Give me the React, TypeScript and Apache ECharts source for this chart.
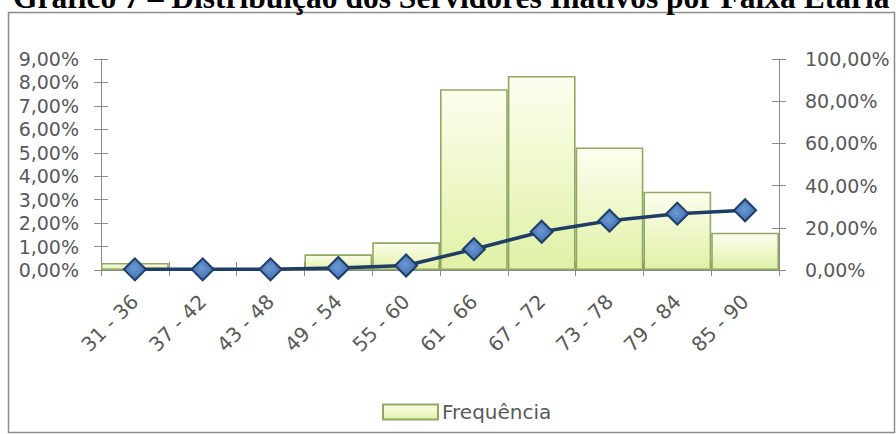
import React, { useEffect, useRef } from "react";
import * as echarts from "echarts";

// Age bands (faixa etária)
const categories = [
  "31 - 36", "37 - 42", "43 - 48", "49 - 54", "55 - 60",
  "61 - 66", "67 - 72", "73 - 78", "79 - 84", "85 - 90",
];

// Frequency of each band, in % (left axis)
const frequencia = [0.3, 0, 0, 0.67, 1.18, 7.71, 8.28, 5.23, 3.34, 1.59];

// Accumulated percentage (right axis)
const acumulado = [0.3, 0.3, 0.3, 0.97, 2.15, 9.86, 18.14, 23.37, 26.71, 28.3];

const titleText = "Gráfico 7 – Distribuição dos Servidores Inativos por Faixa Etária";
const legendName = "Frequência";

const FONT = "'DejaVu Sans', sans-serif";
const LABEL_COLOR = "#595959";
const AXIS_COLOR = "#8a8a8a";

const pct = (v: number) => v.toFixed(2).replace(".", ",") + "%";

export default function App() {
  const ref = useRef<HTMLDivElement>(null);

  useEffect(() => {
    if (!ref.current) return;
    const chart = echarts.init(ref.current, undefined, { renderer: "svg" });

    const barFill = new echarts.graphic.LinearGradient(0, 0, 0, 1, [
      { offset: 0, color: "#fcfeee" },
      { offset: 1, color: "#e0f1a6" },
    ]);

    const axisText = { color: LABEL_COLOR, fontFamily: FONT, fontSize: 19 };
    const grid = { left: 101, right: 117, top: 59, bottom: 164, containLabel: false };

    chart.setOption({
      animation: false,
      backgroundColor: "#ffffff",
      grid,
      graphic: [
        {
          type: "rect",
          z: -10,
          shape: { x: 8.5, y: 12.5, width: 886, height: 420 },
          style: { fill: "#ffffff", stroke: "#8c8c8c", lineWidth: 1.5 },
        },
        {
          type: "text",
          x: 13,
          y: 13,
          z: 10,
          style: {
            text: titleText,
            font: "bold 31.5px 'Liberation Serif', serif",
            fill: "#000000",
            verticalAlign: "bottom",
            align: "left",
          },
        },
      ],
      legend: {
        data: [legendName],
        left: 377,
        top: 397,
        icon: "rect",
        itemWidth: 55,
        itemHeight: 15,
        itemGap: 4,
        textStyle: { ...axisText, fontSize: 20, padding: [0, 0, 0, -1] },
      },
      xAxis: [
        {
          type: "category",
          data: categories,
          boundaryGap: true,
          axisLine: { show: true, lineStyle: { color: AXIS_COLOR, width: 1 } },
          axisTick: { show: true, length: 6, lineStyle: { color: AXIS_COLOR } },
          axisLabel: { ...axisText, fontSize: 20, rotate: 45, margin: 28, interval: 0 },
        },
        {
          // inner half of the crossing tick marks
          type: "category",
          data: categories,
          position: "bottom",
          axisLine: { show: false },
          axisTick: { show: true, inside: true, length: 8, lineStyle: { color: AXIS_COLOR } },
          axisLabel: { show: false },
        },
      ],
      yAxis: [
        {
          type: "value",
          min: 0,
          max: 9,
          interval: 1,
          position: "left",
          splitLine: { show: false },
          axisLine: { show: true, lineStyle: { color: AXIS_COLOR } },
          axisTick: { show: true, length: 7, lineStyle: { color: AXIS_COLOR } },
          axisLabel: { ...axisText, margin: 22, formatter: (v: number) => pct(v) },
        },
        {
          type: "value",
          min: 0,
          max: 100,
          interval: 20,
          position: "right",
          splitLine: { show: false },
          axisLine: { show: true, lineStyle: { color: AXIS_COLOR } },
          axisTick: { show: true, length: 7, lineStyle: { color: AXIS_COLOR } },
          axisLabel: { ...axisText, margin: 26, formatter: (v: number) => pct(v) },
        },
        {
          type: "value",
          min: 0,
          max: 9,
          interval: 1,
          position: "left",
          splitLine: { show: false },
          axisLine: { show: false },
          axisTick: { show: true, inside: true, length: 7, lineStyle: { color: AXIS_COLOR } },
          axisLabel: { show: false },
        },
        {
          type: "value",
          min: 0,
          max: 100,
          interval: 20,
          position: "right",
          splitLine: { show: false },
          axisLine: { show: false },
          axisTick: { show: true, inside: true, length: 7, lineStyle: { color: AXIS_COLOR } },
          axisLabel: { show: false },
        },
      ],
      series: [
        {
          name: legendName,
          type: "bar",
          xAxisIndex: 0,
          yAxisIndex: 0,
          data: frequencia,
          barCategoryGap: "0%",
          itemStyle: { color: barFill, borderColor: "#8fa862", borderWidth: 1.6 },
        },
        {
          name: "Acumulado",
          type: "line",
          xAxisIndex: 0,
          yAxisIndex: 1,
          data: acumulado,
          symbol: "diamond",
          symbolSize: 22,
          z: 5,
          lineStyle: { color: "#1f3d66", width: 3.5 },
          itemStyle: {
            color: new echarts.graphic.RadialGradient(0.45, 0.45, 0.6, [
              { offset: 0, color: "#6a9ad6" },
              { offset: 1, color: "#3d6aa8" },
            ]),
            borderColor: "#1f3d66",
            borderWidth: 2,
          },
        },
      ],
    });

    return () => chart.dispose();
  }, []);

  return (
    <div
      ref={ref}
      style={{ position: "fixed", left: 0, top: 0, width: 896, height: 434, background: "#fff" }}
    />
  );
}
